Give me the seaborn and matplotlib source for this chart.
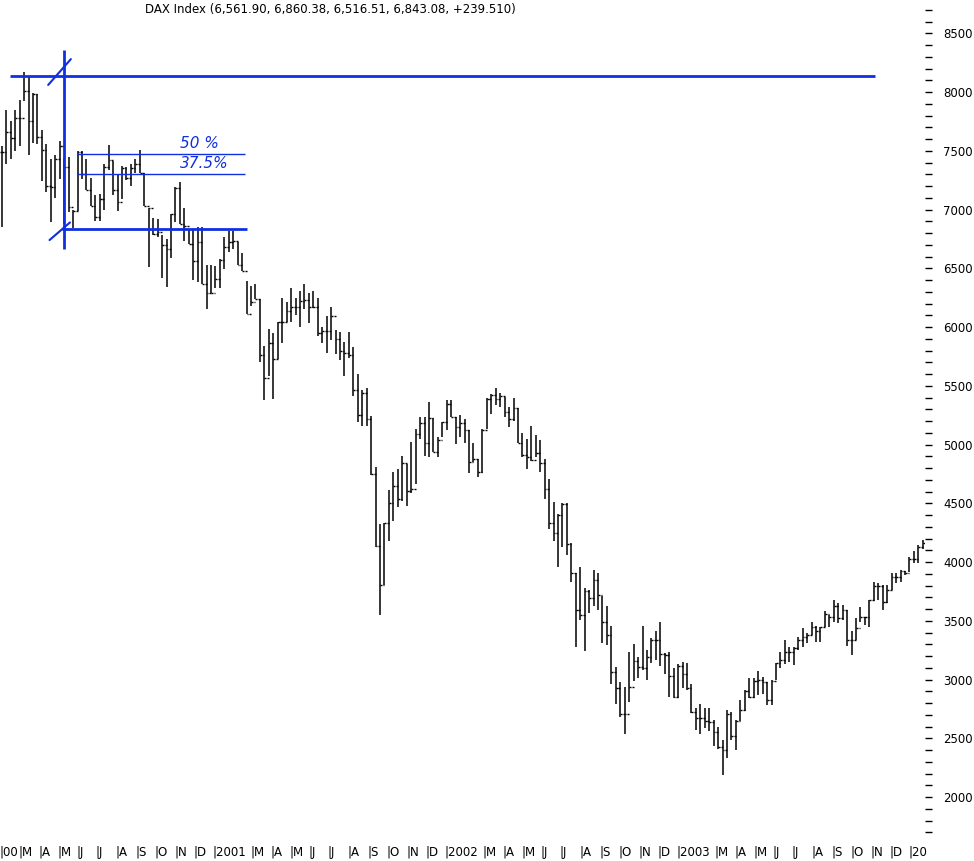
import numpy as np
import pandas as pd
import matplotlib
matplotlib.use("Agg")
import matplotlib.pyplot as plt
import seaborn as sns

# weekly bars, first bar = week of 4 Feb 2000
high = [7540, 7850, 7750, 7850, 7930, 8170, 8140, 7990, 7980, 7680, 7560, 7430, 7460, 7580, 7440, 7443,
        7000, 7500, 7500, 7430, 7270, 7120, 7130, 7390, 7550, 7410, 7290, 7370, 7360, 7390, 7430, 7510,
        7310, 7010, 6930, 6920, 6780, 6750, 6960, 7190, 7230, 7010, 6830, 6830, 6850, 6850, 6530, 6530,
        6520, 6580, 6770, 6820, 6820, 6720, 6630, 6390, 6350, 6370, 6240, 5840, 5980, 5950, 6040, 6250,
        6210, 6330, 6250, 6310, 6370, 6290, 6310, 6250, 6000, 6090, 6170, 5975, 5960, 5875, 5960, 5830,
        5600, 5460, 5480, 5240, 4810, 4320, 4335, 4610, 4770, 4795, 4900, 4835, 5025, 5135, 5235, 5235,
        5365, 5230, 5060, 5195, 5380, 5380, 5235, 5250, 5220, 5125, 5010, 4875, 5130, 5400, 5430, 5485,
        5440, 5405, 5320, 5400, 5310, 5095, 5050, 5155, 5080, 5040, 4875, 4705, 4515, 4410, 4500, 4500,
        4160, 3910, 3960, 3775, 3760, 3935, 3910, 3710, 3625, 3455, 3110, 2975, 2940, 3235, 3305, 3195,
        3455, 3250, 3350, 3415, 3490, 3230, 3235, 3095, 3130, 3150, 3145, 2965, 2755, 2795, 2755, 2755,
        2655, 2600, 2485, 2740, 2725, 2655, 2825, 2915, 3010, 3010, 3075, 3025, 2980, 3000, 3145, 3235,
        3335, 3275, 3280, 3365, 3435, 3400, 3490, 3455, 3450, 3585, 3550, 3675, 3655, 3635, 3595, 3415,
        3520, 3615, 3535, 3680, 3830, 3825, 3805, 3805, 3905, 3905, 3935, 3925, 4045, 4090, 4145, 4185]
low = [6850, 7390, 7430, 7500, 7540, 7920, 7460, 7570, 7560, 7240, 7150, 6890, 7100, 7260, 6880, 6980,
       6840, 6990, 7260, 7170, 7030, 6900, 6900, 7000, 7340, 7120, 6990, 7090, 7250, 7200, 7310, 7310,
       7030, 6510, 6780, 6770, 6420, 6340, 6590, 6890, 6880, 6730, 6710, 6400, 6380, 6370, 6150, 6290,
       6330, 6330, 6490, 6640, 6660, 6530, 6480, 6110, 6180, 6240, 5700, 5380, 5580, 5390, 5730, 5860,
       6040, 6040, 6100, 6000, 6150, 6030, 6160, 5920, 5860, 5780, 5890, 5770, 5720, 5585, 5740, 5410,
       5195, 5155, 5155, 4740, 4130, 3550, 3805, 4175, 4350, 4465, 4520, 4475, 4590, 4665, 5045, 4900,
       4895, 4940, 4895, 5060, 5125, 5235, 5005, 5065, 5010, 4755, 4855, 4725, 4755, 5135, 5260, 5335,
       5320, 5235, 5150, 5200, 5010, 4895, 4795, 4860, 4890, 4770, 4540, 4280, 4175, 3960, 4125, 4060,
       3830, 3280, 3505, 3245, 3565, 3625, 3590, 3310, 3295, 2965, 2790, 2685, 2535, 2805, 2990, 3010,
       3085, 3000, 3145, 3165, 3115, 3050, 2855, 2840, 2840, 2925, 2915, 2715, 2570, 2540, 2585, 2565,
       2435, 2405, 2185, 2330, 2485, 2400, 2650, 2735, 2840, 2840, 2870, 2880, 2780, 2780, 3000, 3095,
       3130, 3150, 3125, 3250, 3280, 3315, 3380, 3320, 3320, 3450, 3450, 3490, 3485, 3510, 3285, 3210,
       3340, 3490, 3465, 3450, 3670, 3675, 3595, 3655, 3760, 3825, 3830, 3890, 3917, 3995, 3995, 4115]
close = [7490, 7660, 7610, 7780, 7780, 8010, 7750, 7980, 7620, 7510, 7200, 7190, 7430, 7540, 7360, 7020,
         6990, 7490, 7300, 7170, 7030, 6940, 7090, 7360, 7420, 7170, 7060, 7350, 7270, 7350, 7390, 7310,
         7030, 7010, 6790, 6810, 6700, 6660, 6960, 7180, 6880, 6860, 6710, 6560, 6720, 6370, 6290, 6290,
         6410, 6570, 6680, 6720, 6730, 6530, 6480, 6110, 6210, 6240, 5760, 5570, 5860, 5730, 6040, 6040,
         6140, 6170, 6170, 6220, 6230, 6170, 6170, 5950, 5970, 5970, 6090, 5895, 5800, 5775, 5760, 5460,
         5250, 5435, 5215, 4750, 4135, 3805, 4330, 4500, 4645, 4535, 4840, 4605, 4620, 5090, 5180, 5010,
         5230, 4940, 5040, 5195, 5345, 5235, 5150, 5180, 5125, 4855, 4875, 4770, 5125, 5390, 5420, 5390,
         5410, 5280, 5215, 5310, 5015, 4910, 4895, 4870, 4925, 4840, 4625, 4330, 4245, 4400, 4495, 4155,
         3910, 3590, 3550, 3755, 3690, 3845, 3720, 3490, 3380, 3065, 2925, 2710, 2710, 2940, 3160, 3110,
         3095, 3195, 3340, 3335, 3220, 3210, 3030, 2850, 3115, 3045, 2925, 2725, 2675, 2675, 2650, 2640,
         2555, 2430, 2400, 2710, 2520, 2650, 2740, 2905, 2850, 2990, 2995, 2975, 2825, 2990, 3140, 3170,
         3235, 3235, 3265, 3335, 3365, 3380, 3450, 3415, 3445, 3560, 3535, 3625, 3520, 3590, 3335, 3335,
         3435, 3530, 3530, 3675, 3795, 3795, 3660, 3760, 3875, 3875, 3925, 3910, 4030, 4030, 4130, 4160]

# month axis labels (label, month start)
month_labels = ["00", "M", "A", "M", "J", "J", "A", "S", "O", "N", "D",
                "2001", "M", "A", "M", "J", "J", "A", "S", "O", "N", "D",
                "2002", "M", "A", "M", "J", "J", "A", "S", "O", "N", "D",
                "2003", "M", "A", "M", "J", "J", "A", "S", "O", "N", "D", "20"]
month_starts = ["2000-02-01", "2000-03-01", "2000-04-01", "2000-05-01", "2000-06-01", "2000-07-01",
                "2000-08-01", "2000-09-01", "2000-10-01", "2000-11-01", "2000-12-01",
                "2001-01-01", "2001-03-01", "2001-04-01", "2001-05-01", "2001-06-01", "2001-07-01",
                "2001-08-01", "2001-09-01", "2001-10-01", "2001-11-01", "2001-12-01",
                "2002-01-01", "2002-03-01", "2002-04-01", "2002-05-01", "2002-06-01", "2002-07-01",
                "2002-08-01", "2002-09-01", "2002-10-01", "2002-11-01", "2002-12-01",
                "2003-01-01", "2003-03-01", "2003-04-01", "2003-05-01", "2003-06-01", "2003-07-01",
                "2003-08-01", "2003-09-01", "2003-10-01", "2003-11-01", "2003-12-01", "2004-01-01"]

# hand-drawn blue levels
top_level = 8140
low_level = 6830
fib_levels = [7470, 7300]
fib_text = ["50 %", "37.5%"]

n = len(close)
df = pd.DataFrame({"x": np.arange(n), "high": high, "low": low, "close": close})
df["open"] = df["close"].shift(1).fillna(df["close"].iloc[0])

sns.set_theme(style="white", rc={"text.color": "black", "xtick.color": "black", "ytick.color": "black"})
fig = plt.figure(figsize=(9.74, 8.61), dpi=100)
ax = fig.add_axes([0, 18 / 861, 925 / 974, 843 / 861])

ax.vlines(df["x"], df["low"], df["high"], color="black", lw=1.1)
ax.hlines(df["open"], df["x"] - 0.4, df["x"], color="black", lw=1.0)
ax.hlines(df["close"], df["x"], df["x"] + 0.4, color="black", lw=1.0)

ax.set_xlim(-0.4, 207.5)
ax.set_ylim(1609, 8783)

# x ticks in week units
t0 = pd.Timestamp("2000-02-04")
pos = [(pd.Timestamp(d) - t0).days / 7 for d in month_starts]
ax.set_xticks(pos)
ax.set_xticklabels(["|" + m for m in month_labels], ha="left", fontsize=8.5)
ax.tick_params(axis="x", length=0, pad=2)

ax.yaxis.tick_right()
ax.set_yticks(np.arange(2000, 8501, 500))
ax.set_yticks(np.arange(1700, 8800, 100), minor=True)
ax.tick_params(axis="y", which="both", direction="out", length=5, width=1,
               labelsize=8.5, pad=8, right=True)
for s in ax.spines.values():
    s.set_visible(False)

# annotations
blue = "#1030e0"
ax.hlines(top_level, 1.9, 196.3, color=blue, lw=2)
ax.vlines(14.0, 6660, 8360, color=blue, lw=2)
ax.hlines(low_level, 13.6, 55.0, color=blue, lw=2)
ax.plot([10.4, 15.5], [8060, 8280], color=blue, lw=1.5)
ax.plot([10.7, 15.3], [6740, 6890], color=blue, lw=1.5)
for lvl, txt in zip(fib_levels, fib_text):
    ax.hlines(lvl, 16.9, 54.7, color=blue, lw=1)
    ax.text(40, lvl + 30, txt, color=blue, fontsize=11, fontstyle="italic", va="bottom")

fig.text(330 / 974, 1 - 10 / 861, "DAX Index (6,561.90, 6,860.38, 6,516.51, 6,843.08, +239.510)",
         ha="center", va="center", fontsize=8.5)

fig.savefig("out.png", dpi=100)
